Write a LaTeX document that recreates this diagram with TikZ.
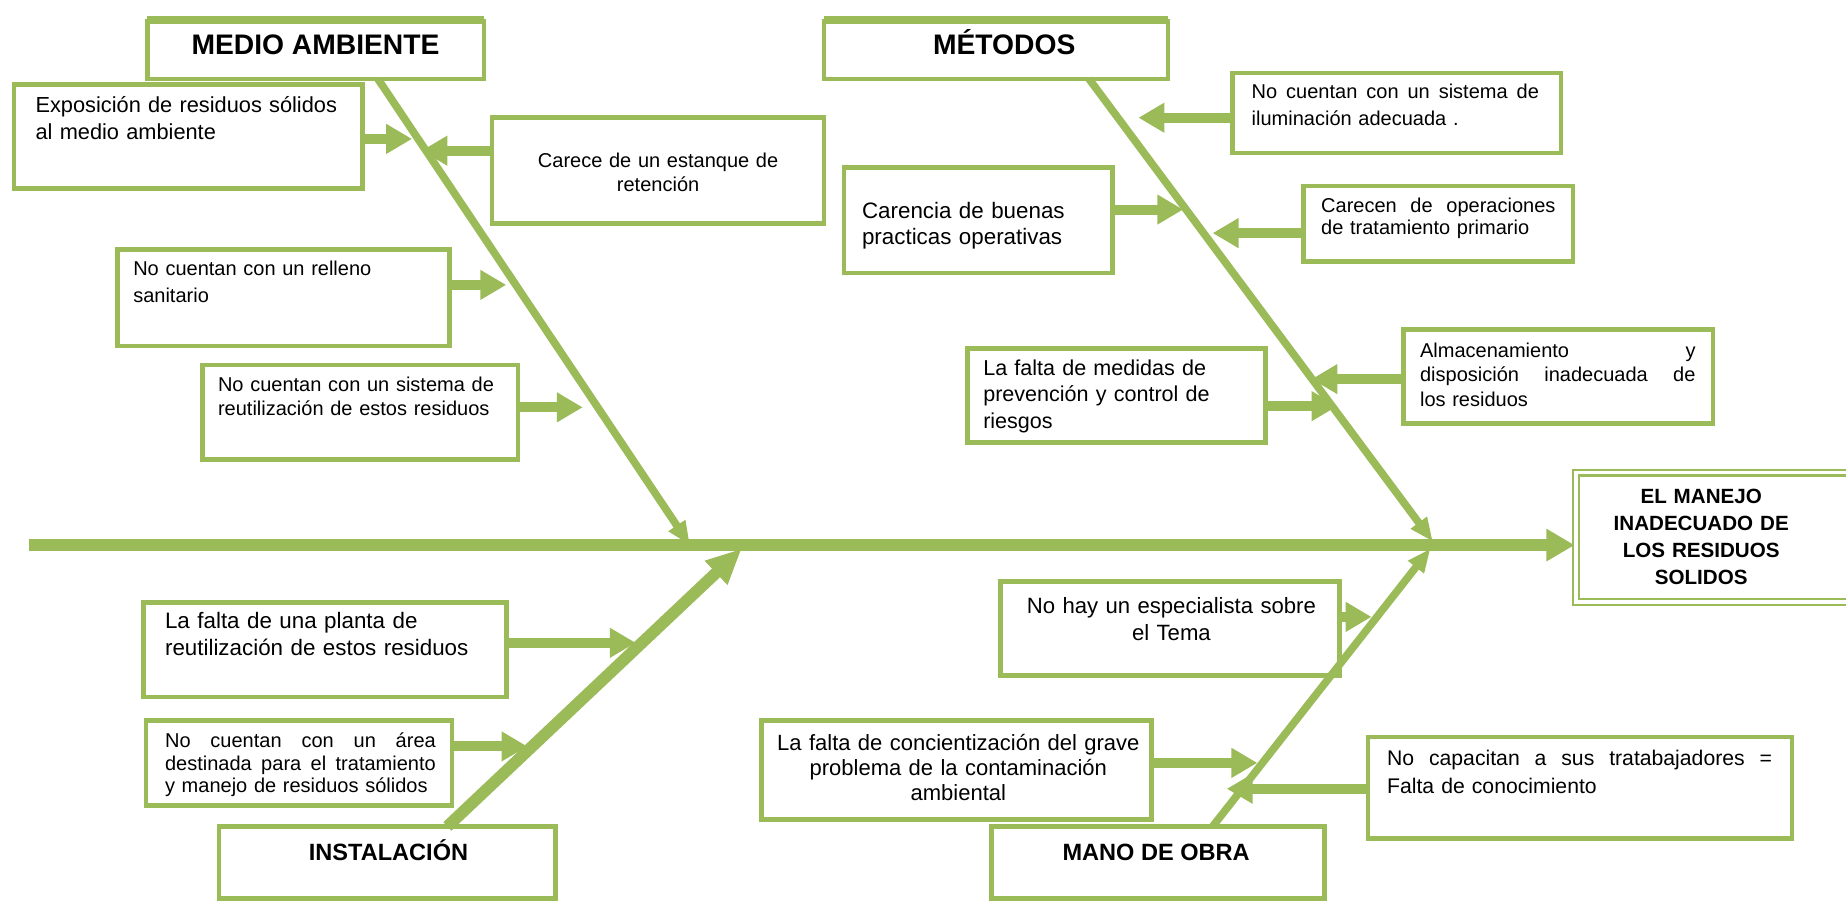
\documentclass[tikz,border=0pt]{standalone}
\usepackage{fontspec}
\setmainfont{Liberation Sans}
\usetikzlibrary{arrows.meta,calc}
\definecolor{fish}{HTML}{9BBB59}
\newcommand\setfs[2]{\fontsize{#1}{#2}\selectfont}
% a justified line: words separated by \hfill, spread to the given width
\newcommand\spreadline[2]{\leavevmode\hbox to #1{#2}}

\begin{document}
\begin{tikzpicture}[x=1pt,y=-1pt,
  box/.style={draw=fish, line width=4pt, fill=white, inner sep=0pt, outer sep=0pt, anchor=north west},
  bone/.style={draw=fish, line width=6.5pt, -{Triangle[length=20pt,width=16pt]}},
  bigbone/.style={draw=fish, line width=10pt, -{Triangle[length=30pt,width=26pt]}},
  twig/.style={draw=fish, line width=8.5pt, -{Triangle[length=22pt,width=24pt]}},
  spine/.style={draw=fish, line width=10pt, -{Triangle[length=24pt,width=26pt]}},
  txt/.style={inner sep=0pt, anchor=north west, align=left},
  ctxt/.style={inner sep=0pt, anchor=north, align=center},
  bigtitle/.style={inner sep=0pt, anchor=base, font=\bfseries\setfs{24}{28}},
  smalltitle/.style={inner sep=0pt, anchor=base, font=\bfseries\setfs{20}{24}},
]
\useasboundingbox (0,0) rectangle (1568,765);
\clip (0,0) rectangle (1568,765);

% ---------- category boxes ----------
\node[box, minimum width=286pt, minimum height=49pt] (ambBox) at (125,18) {};
\node[box, minimum width=292pt, minimum height=49pt] (metBox) at (700,18) {};
\node[box, minimum width=286pt, minimum height=61pt] (insBox) at (186,702) {};
\node[box, minimum width=283pt, minimum height=61pt] (manBox) at (842,702) {};
\draw[fish, line width=6pt] ([yshift=1.5pt]ambBox.north west) -- ([yshift=1.5pt]ambBox.north east);
\draw[fish, line width=6pt] ([yshift=1.5pt]metBox.north west) -- ([yshift=1.5pt]metBox.north east);

\node[bigtitle] (ambT) at (268,46.6) {MEDIO AMBIENTE};
\node[bigtitle] (metT) at (853,46.6) {MÉTODOS};
\node[smalltitle] (insT) at (330,731.2) {INSTALACIÓN};
\node[smalltitle] (manT) at (982,731.2) {MANO DE OBRA};

% ---------- effect ----------
\node[draw=fish, line width=2pt, double=white, double distance=3pt, fill=white,
      minimum width=300pt, minimum height=110pt, inner sep=0pt, anchor=west] (effBox) at (1337.5,456.5) {};
\node[ctxt, font=\bfseries\setfs{17.5}{23}, text width=200pt] (effT) at (1445,411.2)
  {\strut EL MANEJO\\INADECUADO DE\\LOS RESIDUOS\\SOLIDOS};

% ---------- cause boxes ----------
\node[box, minimum width=296pt, minimum height=88pt] (b1) at (12,72) {};
\node[box, minimum width=282pt, minimum height=90pt] (b2) at (418,100) {};
\node[box, minimum width=282pt, minimum height=82pt] (b3) at (100,212) {};
\node[box, minimum width=268pt, minimum height=80pt] (b4) at (172,310) {};
\node[box, minimum width=279pt, minimum height=68pt] (b5) at (1047,62) {};
\node[box, minimum width=228pt, minimum height=90pt] (b6) at (717,142) {};
\node[box, minimum width=229pt, minimum height=64pt] (b7) at (1107,158) {};
\node[box, minimum width=253pt, minimum height=80pt] (b8) at (822,296) {};
\node[box, minimum width=263pt, minimum height=80pt] (b9) at (1192,280) {};
\node[box, minimum width=308pt, minimum height=80pt] (b11) at (122,512) {};
\node[box, minimum width=260pt, minimum height=72pt] (b12) at (124,612) {};
\node[box, minimum width=288pt, minimum height=80pt] (b13) at (850,494) {};
\node[box, minimum width=331pt, minimum height=84pt] (b14) at (647,612) {};
\node[box, minimum width=360pt, minimum height=86pt] (b15) at (1162,626) {};

% ---------- cause texts ----------
\node[txt, font=\setfs{18.5}{23}, text width=275pt] (t1) at (30,79.4)
  {\strut Exposición de residuos sólidos\\al medio ambiente};
\node[ctxt, font=\setfs{17}{20}, text width=270pt] (t2) at (559,128.1)
  {\strut Carece de un estanque de\\retención};
\node[txt, font=\setfs{17}{23}, text width=260pt] (t3) at (113,218)
  {\strut No cuentan con un relleno\\sanitario};
\node[txt, font=\setfs{17}{21}, text width=250pt] (t4) at (185,317.4)
  {\strut No cuentan con un sistema de\\reutilización de estos residuos};
\node[txt, font=\setfs{17}{23}, text width=260pt] (t5) at (1063,67)
  {\strut\spreadline{244pt}{No\hfill cuentan\hfill con\hfill un\hfill sistema\hfill de}\\iluminación adecuada .};
\node[txt, font=\setfs{19}{22}, text width=210pt] (t6) at (732,170.3)
  {\strut Carencia de buenas\\practicas operativas};
\node[txt, font=\setfs{17}{19}, text width=210pt] (t7) at (1122,166.8)
  {\strut\spreadline{199pt}{Carecen\hfill de\hfill operaciones}\\de tratamiento primario};
\node[txt, font=\setfs{18.3}{22.5}, text width=235pt] (t8) at (835,302.7)
  {\strut La falta de medidas de\\prevención y control de\\riesgos};
\node[txt, font=\setfs{17}{21}, text width=245pt] (t9) at (1206,288.4)
  {\strut\spreadline{234pt}{Almacenamiento\hfill y}\\\spreadline{234pt}{disposición\hfill inadecuada\hfill de}\\los residuos};
\node[txt, font=\setfs{19}{23}, text width=285pt] (t11) at (140,517.6)
  {\strut La falta de una planta de\\reutilización de estos residuos};
\node[txt, font=\setfs{17}{19}, text width=240pt] (t12) at (140,621.8)
  {\strut\spreadline{230pt}{No\hfill cuentan\hfill con\hfill un\hfill área}\\\spreadline{230pt}{destinada\hfill para\hfill el\hfill tratamiento}\\y manejo de residuos sólidos};
\node[ctxt, font=\setfs{18.8}{23}, text width=280pt] (t13) at (995,504.5)
  {\strut No hay un especialista sobre\\el Tema};
\node[ctxt, font=\setfs{18.7}{21}, text width=325pt] (t14) at (814,622.9)
  {\strut La falta de concientización del grave\\problema de la contaminación\\ambiental};
\node[txt, font=\setfs{18}{23}, text width=340pt] (t15) at (1178,634.3)
  {\strut\spreadline{327pt}{No\hfill capacitan\hfill a\hfill sus\hfill tratabajadores\hfill =}\\Falta de conocimiento};

% ---------- joints on the spine and arrow tips on the bones ----------
\coordinate (spL) at (25,463);
\coordinate (jAmb) at (586,463);
\coordinate (jMet) at (1217,460);
\coordinate (jIns) at (630,466);
\coordinate (jMan) at (1215,466);

\coordinate (a1) at (350,118);
\coordinate (a2) at (358,128);
\coordinate (a3) at (430,242);
\coordinate (a4) at (495,346);
\coordinate (a5) at (967,100);
\coordinate (a6) at (1005,178);
\coordinate (a7) at (1030,198);
\coordinate (a8) at (1136,345);
\coordinate (a9) at (1114,322);
\coordinate (a11) at (540,546);
\coordinate (a12) at (448,634);
\coordinate (a13) at (1165,524);
\coordinate (a14) at (1068,648);
\coordinate (a15) at (1042,670);

% ---------- spine and bones ----------
\draw[spine] (spL) -- (spL -| effBox.west);
\draw[bone] ([xshift=53pt]ambBox.south) -- (jAmb);
\draw[bone] ([xshift=79pt]metBox.south) -- (jMet);
\draw[bigbone] ([xshift=51pt]insBox.north) -- (jIns);
\draw[bone] ([xshift=46.5pt]manBox.north) -- (jMan);

% ---------- causes ----------
\draw[twig] (b1.east |- a1) -- (a1);
\draw[twig] (b2.west |- a2) -- (a2);
\draw[twig] (b3.east |- a3) -- (a3);
\draw[twig] (b4.east |- a4) -- (a4);
\draw[twig] (b5.west |- a5) -- (a5);
\draw[twig] (b6.east |- a6) -- (a6);
\draw[twig] (b7.west |- a7) -- (a7);
\draw[twig] (b8.east |- a8) -- (a8);
\draw[twig] (b9.west |- a9) -- (a9);
\draw[twig] (b11.east |- a11) -- (a11);
\draw[twig] (b12.east |- a12) -- (a12);
\draw[twig] (b13.east |- a13) -- (a13);
\draw[twig] (b14.east |- a14) -- (a14);
\draw[twig] (b15.west |- a15) -- (a15);
\end{tikzpicture}
\end{document}
